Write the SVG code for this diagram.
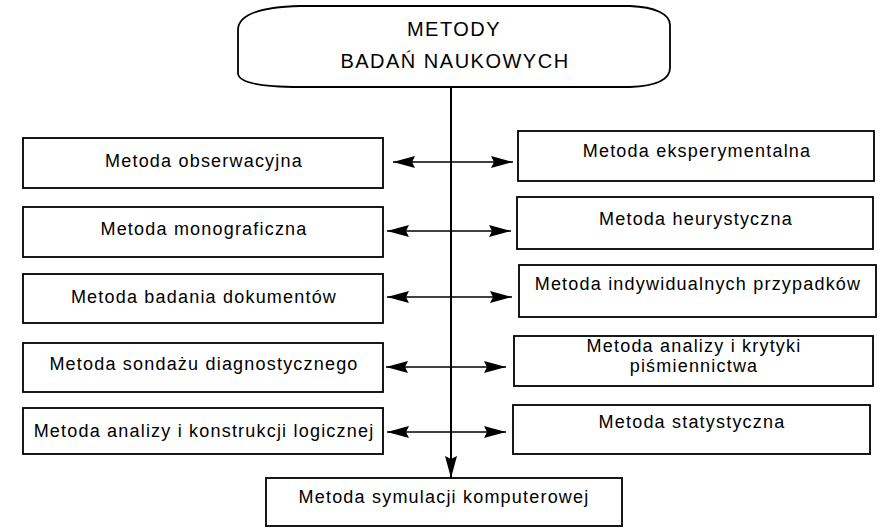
<svg xmlns="http://www.w3.org/2000/svg" width="882" height="528" viewBox="0 0 882 528">
  <style>
    .box { fill: #ffffff; stroke: #000000; stroke-width: 1.8; }
    .lbl { font-family: "Liberation Sans", Arial, sans-serif; font-size: 18px; letter-spacing: 1.2px; fill: #000000; text-anchor: middle; }
    .ttl { font-family: "Liberation Sans", Arial, sans-serif; font-size: 20px; letter-spacing: 1.5px; fill: #000000; text-anchor: middle; }
    .wire { fill: none; stroke: #000000; stroke-width: 1.6; }
    .trunk { fill: none; stroke: #000000; stroke-width: 2; }
  </style>
  <defs>
    <marker id="head" markerUnits="userSpaceOnUse" markerWidth="24" markerHeight="14" refX="22" refY="7" orient="auto-start-reverse">
      <path d="M0,1 L22,7 L0,13 L3,7 Z" fill="#000000"/>
    </marker>
  </defs>
  <rect width="882" height="528" fill="#ffffff"/>

  <!-- connectors: central trunk and paired side arrows -->
  <g id="connectors">
    <line class="trunk" x1="451" y1="88" x2="451" y2="478" marker-end="url(#head)"/>
    <line class="wire" x1="393" y1="162" x2="513" y2="162" marker-start="url(#head)" marker-end="url(#head)"/>
    <line class="wire" x1="387" y1="231" x2="511" y2="231" marker-start="url(#head)" marker-end="url(#head)"/>
    <line class="wire" x1="387" y1="297" x2="512" y2="297" marker-start="url(#head)" marker-end="url(#head)"/>
    <line class="wire" x1="386" y1="367" x2="506" y2="367" marker-start="url(#head)" marker-end="url(#head)"/>
    <line class="wire" x1="387" y1="432" x2="506" y2="432" marker-start="url(#head)" marker-end="url(#head)"/>
  </g>

  <!-- root -->
  <g id="root">
    <path class="box" d="M300,6 L630,6 C655,7 670,14 670,25 L670,68 C670,80 655,86 630,87 L300,87 C260,87 238,83 238,73 L238,30 C238,14 260,7 300,6 Z"/>
    <text class="ttl" x="454" y="36">METODY</text>
    <text class="ttl" x="455" y="68">BADAŃ NAUKOWYCH</text>
  </g>

  <!-- left column -->
  <g id="obserwacyjna">
    <rect class="box" x="23" y="138" width="360" height="50"/>
    <text class="lbl" x="204" y="167">Metoda obserwacyjna</text>
  </g>
  <g id="monograficzna">
    <rect class="box" x="23" y="207" width="360" height="50"/>
    <text class="lbl" x="204" y="235">Metoda monograficzna</text>
  </g>
  <g id="badania-dokumentow">
    <rect class="box" x="23" y="274" width="360" height="49"/>
    <text class="lbl" x="204" y="303">Metoda badania dokumentów</text>
  </g>
  <g id="sondazu-diagnostycznego">
    <rect class="box" x="23" y="343" width="360" height="49"/>
    <text class="lbl" x="204" y="370">Metoda sondażu diagnostycznego</text>
  </g>
  <g id="analizy-konstrukcji">
    <rect class="box" x="23" y="408" width="360" height="46"/>
    <text class="lbl" x="204" y="437">Metoda analizy i konstrukcji logicznej</text>
  </g>

  <!-- right column -->
  <g id="eksperymentalna">
    <rect class="box" x="518" y="131" width="356" height="50"/>
    <text class="lbl" x="697" y="157">Metoda eksperymentalna</text>
  </g>
  <g id="heurystyczna">
    <rect class="box" x="517" y="197" width="356" height="52"/>
    <text class="lbl" x="696" y="225">Metoda heurystyczna</text>
  </g>
  <g id="indywidualnych-przypadkow">
    <rect class="box" x="519" y="265" width="357" height="52"/>
    <text class="lbl" x="698" y="290">Metoda indywidualnych przypadków</text>
  </g>
  <g id="analizy-krytyki">
    <rect class="box" x="514" y="336" width="359" height="50"/>
    <text class="lbl" x="694" y="352">Metoda analizy i krytyki</text>
    <text class="lbl" x="694" y="372">piśmiennictwa</text>
  </g>
  <g id="statystyczna">
    <rect class="box" x="513" y="405" width="357" height="49"/>
    <text class="lbl" x="692" y="428">Metoda statystyczna</text>
  </g>

  <!-- bottom -->
  <g id="symulacji-komputerowej">
    <rect class="box" x="266" y="478" width="356" height="48"/>
    <text class="lbl" x="444" y="503">Metoda symulacji komputerowej</text>
  </g>
</svg>
